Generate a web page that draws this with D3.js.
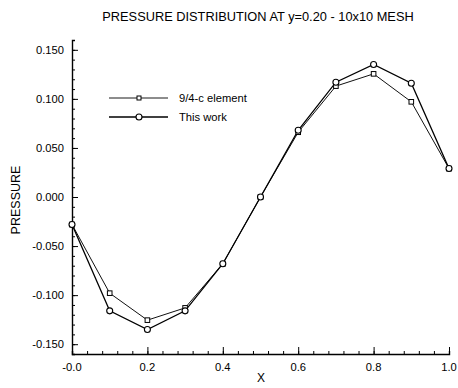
<!DOCTYPE html>
<html>
<head>
<meta charset="utf-8">
<script src="https://cdn.jsdelivr.net/npm/d3@7"></script>
<style>
  html, body { margin: 0; padding: 0; background: #fff; }
  svg { display: block; font-family: "Liberation Sans", Arial, Helvetica, sans-serif; }
</style>
</head>
<body>
<svg id="chart" width="458" height="388"></svg>
<script>
// Pressure along the line y = 0.20 on a 10x10 mesh
const xValues = [0.0, 0.1, 0.2, 0.3, 0.4, 0.5, 0.6, 0.7, 0.8, 0.9, 1.0];
const element94c = [-0.028, -0.098, -0.1255, -0.113, -0.068, 0.0, 0.066, 0.113, 0.1255, 0.097, 0.029];
const thisWork   = [-0.028, -0.116, -0.135, -0.116, -0.068, 0.0, 0.068, 0.117, 0.135, 0.116, 0.029];
const seriesNames = ["9/4-c element", "This work"];
const xTickValues = [0.0, 0.2, 0.4, 0.6, 0.8, 1.0];
const xTickLabels = ["-0.0", "0.2", "0.4", "0.6", "0.8", "1.0"];
const yTickValues = [-0.15, -0.10, -0.05, 0.0, 0.05, 0.10, 0.15];
const yTickLabels = ["-0.150", "-0.100", "-0.050", "0.000", "0.050", "0.100", "0.150"];

const svg = d3.select("#chart");
const plotLeft = 72, plotRight = 449, plotTop = 40, plotBottom = 354;

const x = d3.scaleLinear().domain([0, 1]).range([plotLeft, plotRight]);
const y = d3.scaleLinear().domain([-0.16, 0.16]).range([plotBottom, plotTop]);

// title
svg.append("text")
  .attr("x", 258).attr("y", 21)
  .attr("text-anchor", "middle")
  .attr("font-size", 12.8)
  .attr("fill", "#000")
  .text("PRESSURE DISTRIBUTION AT y=0.20 - 10x10 MESH");

// axes: ticks point into the plot
const xMinor = d3.range(0, 1.0001, 0.04).map(v => +v.toFixed(2));
const yMinor = d3.range(-0.16, 0.1601, 0.01).map(v => +v.toFixed(2));

const xAxisMinor = d3.axisTop(x).tickValues(xMinor).tickSize(3).tickFormat("");
const xAxisMajor = d3.axisTop(x).tickValues(xTickValues).tickSize(7).tickFormat("");
const yAxisMinor = d3.axisRight(y).tickValues(yMinor).tickSize(3).tickFormat("");
const yAxisMajor = d3.axisRight(y).tickValues(yTickValues).tickSize(6).tickFormat("");

function styleAxis(g) {
  g.selectAll("path").attr("stroke", "#000").attr("stroke-width", 1.4);
  g.selectAll("line").attr("stroke", "#000").attr("stroke-width", 1);
}

svg.append("g").attr("transform", `translate(0,${plotBottom})`).call(xAxisMinor).call(styleAxis);
svg.append("g").attr("transform", `translate(0,${plotBottom})`).call(xAxisMajor).call(styleAxis)
  .select("path").remove();
svg.append("g").attr("transform", `translate(${plotLeft},0)`).call(yAxisMinor).call(styleAxis);
svg.append("g").attr("transform", `translate(${plotLeft},0)`).call(yAxisMajor).call(styleAxis)
  .select("path").remove();

// tick labels
svg.append("g").selectAll("text").data(xTickValues).join("text")
  .attr("x", d => x(d)).attr("y", plotBottom + 17)
  .attr("text-anchor", "middle")
  .attr("font-size", 11.2)
  .attr("fill", "#000")
  .text((d, i) => xTickLabels[i]);

svg.append("g").selectAll("text").data(yTickValues).join("text")
  .attr("x", plotLeft - 8).attr("y", d => y(d) + 4)
  .attr("text-anchor", "end")
  .attr("font-size", 11.2)
  .attr("fill", "#000")
  .text((d, i) => yTickLabels[i]);

// axis titles
svg.append("text")
  .attr("x", 261).attr("y", 382)
  .attr("text-anchor", "middle")
  .attr("font-size", 12)
  .attr("fill", "#000")
  .text("X");

svg.append("text")
  .attr("transform", `translate(20,${(plotTop + plotBottom) / 2 + 3}) rotate(-90)`)
  .attr("text-anchor", "middle")
  .attr("font-size", 12.5)
  .attr("fill", "#000")
  .text("PRESSURE");

// data series
const line = d3.line().x(d => x(d[0])).y(d => y(d[1]));
const ptsA = xValues.map((v, i) => [v, element94c[i]]);
const ptsB = xValues.map((v, i) => [v, thisWork[i]]);

svg.append("path").datum(ptsA).attr("d", line)
  .attr("fill", "none").attr("stroke", "#111").attr("stroke-width", 1);
svg.append("path").datum(ptsB).attr("d", line)
  .attr("fill", "none").attr("stroke", "#000").attr("stroke-width", 1.3);

svg.append("g").selectAll("rect").data(ptsA).join("rect")
  .attr("x", d => x(d[0]) - 2.3).attr("y", d => y(d[1]) - 2.3)
  .attr("width", 4.6).attr("height", 4.6)
  .attr("fill", "#fff").attr("stroke", "#000").attr("stroke-width", 1);

svg.append("g").selectAll("circle").data(ptsB).join("circle")
  .attr("cx", d => x(d[0])).attr("cy", d => y(d[1])).attr("r", 3)
  .attr("fill", "#fff").attr("stroke", "#000").attr("stroke-width", 1.1);

// legend
const legend = svg.append("g");
const legendRows = [
  { name: seriesNames[0], y: 98, width: 0.9, marker: "square" },
  { name: seriesNames[1], y: 117, width: 1.3, marker: "circle" }
];
legendRows.forEach(r => {
  legend.append("line")
    .attr("x1", 109).attr("x2", 168).attr("y1", r.y).attr("y2", r.y)
    .attr("stroke", "#000").attr("stroke-width", r.width);
  if (r.marker === "square") {
    legend.append("rect").attr("x", 137).attr("y", r.y - 2).attr("width", 4).attr("height", 4)
      .attr("fill", "#fff").attr("stroke", "#000").attr("stroke-width", 1);
  } else {
    legend.append("circle").attr("cx", 139).attr("cy", r.y).attr("r", 3)
      .attr("fill", "#fff").attr("stroke", "#000").attr("stroke-width", 1.1);
  }
  legend.append("text")
    .attr("x", 179).attr("y", r.y + 4)
    .attr("font-size", 11.2)
    .attr("fill", "#000")
    .text(r.name);
});
</script>
</body>
</html>
